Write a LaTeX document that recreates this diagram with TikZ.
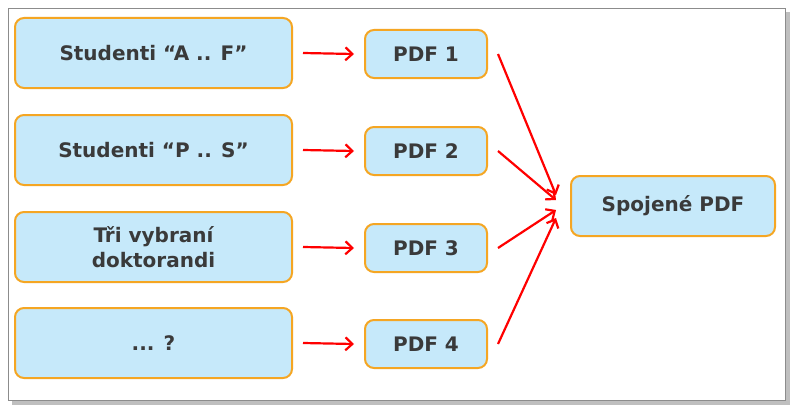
\documentclass[tikz,border=0pt]{standalone}
\usepackage{fontspec}
\setmainfont{DejaVu Sans}
\usetikzlibrary{positioning,arrows.meta}
\definecolor{boxfill}{HTML}{C6E9FA}
\definecolor{boxline}{HTML}{F5A623}
\definecolor{txt}{HTML}{3A3A3A}
\tikzset{
  src/.style={draw=boxline, line width=2pt, fill=boxfill, rounded corners=9pt,
    minimum width=277pt, minimum height=70pt, align=center, font=\fontsize{20}{25}\selectfont\bfseries, text=txt},
  pdf/.style={src, minimum width=122pt, minimum height=48pt},
  res/.style={src, minimum width=204pt, minimum height=60pt},
  arr/.style={draw=red, line width=2.2pt, -{Straight Barb[length=7pt,width=13pt]}}
}
\begin{document}
\begin{tikzpicture}[x=1pt,y=-1pt]
    \useasboundingbox (0,0) rectangle (800,412);
    % Rahmen
    \fill[black!25] (12,12) rectangle (790,405);
    \draw[black!45, fill=white] (8,8) rectangle (785,400);

    % Zdroje
    \node[src] (S1) at (153.5,53) {Studenti “A .. F”};
    \node[src] (S2) at (153.5,150) {Studenti “P .. S”};
    \node[src] (S3) at (153.5,247) {Tři vybraní\\doktorandi};
    \node[src] (S4) at (153.5,343) {... ?};

    % PDF
    \node[pdf] (P1) at (426,54) {PDF 1};
    \node[pdf] (P2) at (426,151) {PDF 2};
    \node[pdf] (P3) at (426,248) {PDF 3};
    \node[pdf] (P4) at (426,344) {PDF 4};

    \node[res] (R) at (673,206) {Spojené PDF};

    % Sipky
    \draw[arr] ([xshift=10pt]S1.east) -- ([xshift=-10pt]P1.west);
    \draw[arr] ([xshift=10pt]S2.east) -- ([xshift=-10pt]P2.west);
    \draw[arr] ([xshift=10pt]S3.east) -- ([xshift=-10pt]P3.west);
    \draw[arr] ([xshift=10pt]S4.east) -- ([xshift=-10pt]P4.west);
    \draw[arr] ([xshift=10pt]P1.east) -- ([xshift=-14pt,yshift=11pt]R.west);
    \draw[arr] ([xshift=10pt]P2.east) -- ([xshift=-14pt,yshift=6pt]R.west);
    \draw[arr] ([xshift=10pt]P3.east) -- ([xshift=-14pt,yshift=-4pt]R.west);
    \draw[arr] ([xshift=10pt]P4.east) -- ([xshift=-14pt,yshift=-12pt]R.west);
\end{tikzpicture}
\end{document}
